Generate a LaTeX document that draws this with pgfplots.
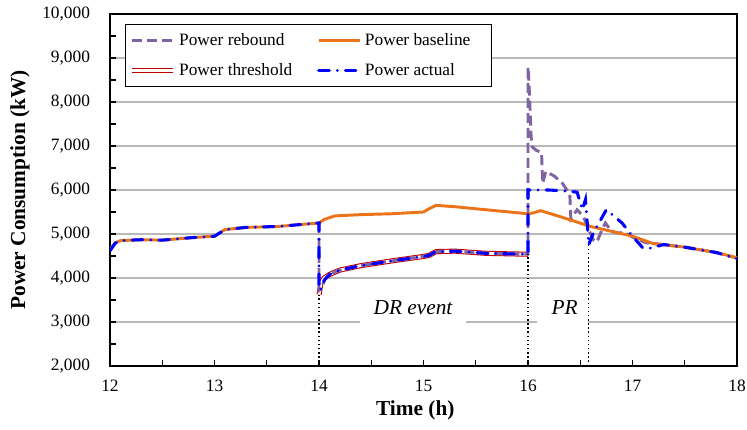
\documentclass[border=0pt]{standalone}
\usepackage{fontspec}
\setmainfont{Liberation Serif}
\usepackage{pgfplots}
\pgfplotsset{compat=1.18}
\definecolor{cOrange}{RGB}{235,115,25}
\definecolor{cPurple}{RGB}{128,100,162}
\definecolor{cBlue}{RGB}{0,0,255}
\definecolor{cRed}{RGB}{192,0,0}
\begin{document}
\begin{tikzpicture}
\begin{axis}[
  name=ax,
  scale only axis,
  width=470.25pt, height=264pt,
  xmin=12, xmax=18, ymin=2000, ymax=10000,
  xtick={12,13,14,15,16,17,18},
  ytick={2000,3000,4000,5000,6000,7000,8000,9000,10000},
  scaled y ticks=false,
  minor x tick num=1, minor y tick num=1,
  tick pos=left, tick align=inside,
  major tick length=4.5pt, minor tick length=4.5pt,
  every tick/.style={black, line width=0.8pt},
  axis line style={line width=1.6pt, black},
  ymajorgrids,
  grid style={gray!55, line width=0.9pt},
  /pgf/number format/assume math mode=true,
  yticklabel={\pgfmathprintnumber[fixed, precision=0, 1000 sep={,}, assume math mode=true]{\tick}},
  ticklabel style={font=\fontsize{13}{15}\selectfont},
  yticklabel style={xshift=-11.5pt},
  xticklabel style={yshift=-7pt},
  xlabel={Time (h)},
  ylabel={Power Consumption (kW)},
  xlabel style={font=\fontsize{16}{18}\selectfont\bfseries, at={(axis description cs:0.487,-0.125)}, anchor=center},
  ylabel style={font=\fontsize{16}{18}\selectfont\bfseries, at={(axis description cs:-0.1435,0.5)}, anchor=center},
  legend columns=2,
  legend style={at={(0.024,0.972)}, anchor=north west, draw=black, line width=0.75pt,
    font=\fontsize{13}{15}\selectfont, cells={anchor=west},
    nodes={inner sep=2.6pt}, row sep=7pt, inner ysep=4pt,
    /tikz/every even column/.append style={column sep=16pt}},
  legend image code/.code={\draw[#1] (0pt,0pt) -- (31pt,0pt);},
]
% white boxes behind annotation texts (interrupt grid)
\fill[white] (axis cs:14.39,2950) rectangle (axis cs:15.41,3050);
\fill[white] (axis cs:16.09,2950) rectangle (axis cs:16.57,3050);

% legend entries (in reference order)
\addlegendimage{cPurple, line width=2.2pt, dash pattern=on 7.5pt off 3.75pt}
\addlegendentry{Power rebound}
\addlegendimage{cOrange, line width=2.2pt}
\addlegendentry{Power baseline\hspace*{10pt}}
\addlegendimage{cRed, line width=0.8pt, double=white, double distance=2pt}
\addlegendentry{Power threshold}
\addlegendimage{cBlue, line width=2.3pt, line cap=round, dash pattern=on 8pt off 6pt on 0.01pt off 6pt}
\addlegendentry{Power actual}

% threshold
\addplot[cRed, line width=0.8pt, double=white, double distance=2.2pt, forget plot] coordinates {
(14.00,3620)(14.02,3900)(14.05,4000)(14.10,4080)(14.20,4180)(14.40,4280)(14.70,4390)
(15.00,4490)(15.05,4510)(15.12,4600)(15.30,4610)(15.60,4560)(16.00,4540)};

% rebound
\addplot[cPurple, line width=2.2pt, dash pattern=on 7.5pt off 3.75pt, forget plot] coordinates {
(14.00,5250)(14.00,3720)(14.03,3780)(14.05,3950)(14.10,4080)(14.20,4180)(14.40,4280)(14.70,4390)
(15.00,4490)(15.05,4510)(15.12,4600)(15.30,4610)(15.60,4560)(16.00,4540)
(16.00,8800)(16.01,8400)(16.02,7800)(16.03,7200)(16.04,6980)(16.08,6900)(16.13,6850)
(16.14,6150)(16.17,6420)(16.25,6320)(16.33,6150)(16.40,5900)(16.41,5350)(16.47,5550)
(16.53,5400)(16.58,5100)(16.63,4850)(16.66,4820)(16.70,5050)(16.74,5250)(16.80,5060)
(16.86,5020)(16.92,5040)(17.00,4930)(17.13,4800)(17.30,4760)(17.50,4700)(17.80,4580)(18.00,4450)};

% baseline
\addplot[cOrange, line width=2.2pt, forget plot] coordinates {
(12.00,4650)(12.05,4800)(12.10,4850)(12.30,4870)(12.50,4860)(12.80,4920)(13.00,4950)
(13.10,5100)(13.30,5150)(13.60,5170)(14.00,5250)(14.05,5330)(14.15,5410)(14.40,5440)
(14.70,5460)(15.00,5500)(15.05,5570)(15.12,5650)(15.30,5620)(15.60,5550)(16.00,5460)
(16.05,5480)(16.12,5530)(16.30,5400)(16.60,5170)(17.00,4950)(17.20,4780)(17.50,4700)
(17.80,4580)(18.00,4460)};

% actual
\addplot[cBlue, line width=2.3pt, line cap=round, dash pattern=on 8pt off 6pt on 0.01pt off 6pt, forget plot] coordinates {
(12.00,4620)(12.05,4790)(12.10,4850)(12.30,4870)(12.50,4860)(12.80,4920)(13.00,4950)
(13.10,5100)(13.30,5150)(13.60,5170)(14.00,5250)(14.00,3720)(14.03,3780)(14.05,3950)
(14.10,4080)(14.20,4180)(14.40,4280)(14.70,4390)(15.00,4490)(15.05,4510)(15.12,4600)
(15.30,4610)(15.60,4560)(16.00,4540)(16.00,6000)(16.20,6000)(16.40,5970)(16.47,5950)
(16.52,5550)(16.55,5780)(16.57,5150)(16.58,4750)(16.63,5050)(16.75,5550)(16.90,5250)
(17.00,4950)(17.10,4680)(17.17,4680)(17.30,4760)(17.50,4700)(17.80,4580)(18.00,4440)};

% dotted markers
\addplot[black, line width=1.1pt, dotted, forget plot] coordinates {(14,2000)(14,3620)};
\addplot[black, line width=1.1pt, dotted, forget plot] coordinates {(16,2000)(16,4540)};
\addplot[black, line width=1.1pt, dotted, forget plot] coordinates {(16.58,2000)(16.58,4750)};

\node[font=\fontsize{16}{18}\selectfont\itshape] at (axis cs:14.9,3320) {DR event};
\node[font=\fontsize{16}{18}\selectfont\itshape] at (axis cs:16.35,3320) {PR};
\end{axis}
\pgfresetboundingbox
\path ([shift={(-82.5pt,-48pt)}]ax.south west) rectangle ([shift={(7.5pt,10.5pt)}]ax.north east);
\end{tikzpicture}
\end{document}
